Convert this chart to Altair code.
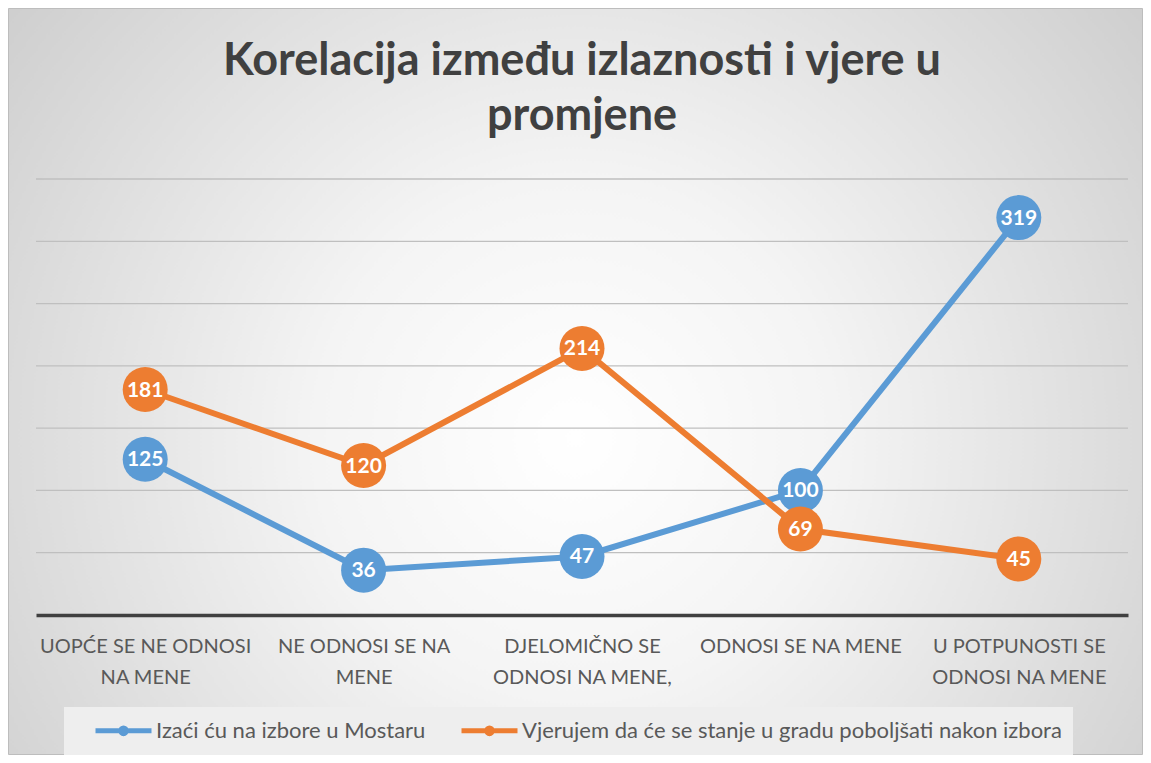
import altair as alt
import pandas as pd

categories = [
    "UOPĆE SE NE ODNOSI\nNA MENE",
    "NE ODNOSI SE NA\nMENE",
    "DJELOMIČNO SE\nODNOSI NA MENE,",
    "ODNOSI SE NA MENE",
    "U POTPUNOSTI SE\nODNOSI NA MENE",
]
series_names = [
    "Izaći ću na izbore u Mostaru",
    "Vjerujem da će se stanje u gradu poboljšati nakon izbora",
]
blue_values = [125, 36, 47, 100, 319]
orange_values = [181, 120, 214, 69, 45]
colors = ["#5B9BD5", "#ED7D31"]
grid_values = [50, 100, 150, 200, 250, 300, 350]
title_lines = ["Korelacija između izlaznosti i vjere u", "promjene"]

rows = []
for s, vals in zip(series_names, [blue_values, orange_values]):
    for c, v in zip(categories, vals):
        rows.append({"category": c, "series": s, "value": v})
df = pd.DataFrame(rows)
grid_df = pd.DataFrame({"g": grid_values})

W, H = 1092, 436
PL, PT, PR, PB = 28, 171, 15, 140

yscale = alt.Scale(domain=[0, 350], nice=False, zero=True)
xenc = alt.X(
    "category:N",
    sort=categories,
    scale=alt.Scale(type="point", padding=0.5),
    axis=alt.Axis(
        title=None,
        labelExpr="split(datum.label, '\\n')",
        labelFont="Lato",
        labelFontSize=20,
        labelColor="#595959",
        labelPadding=21,
        labelLineHeight=31,
        labelAngle=0,
        labelLimit=400,
        labelOverlap=False,
        ticks=False,
        domainColor="#404040",
        domainWidth=3.5,
        grid=False,
        zindex=1,
    ),
)
color_scale = alt.Scale(domain=series_names, range=colors)

bg = alt.Chart(pd.DataFrame({"k": [0]})).mark_rect(
    fill=alt.Gradient(
        gradient="radial",
        stops=[
            alt.GradientStop(color="#ffffff", offset=0),
            alt.GradientStop(color="#f4f4f4", offset=0.3),
            alt.GradientStop(color="#c2c2c2", offset=1),
        ],
        x1=0.5, y1=0.55, x2=0.5, y2=0.55, r1=0, r2=0.76,
    ),
    stroke="#bdbdbd",
    strokeWidth=1,
).encode(
    x=alt.value(-PL + 0.5),
    x2=alt.value(W + PR - 0.5),
    y=alt.value(-PT + 0.5),
    y2=alt.value(H + PB - 0.5),
)

grid = alt.Chart(grid_df).mark_rule(color="#bfbfbf", strokeWidth=1.3).encode(
    y=alt.Y("g:Q", scale=yscale, axis=None),
    x=alt.value(0),
    x2=alt.value(W),
)

# legend glyph: a line segment with a dot in the middle (stroke only)
symbol_path = "M0.8,0L6.4,0M3.88,0A0.28,0.28,0,1,1,3.32,0A0.28,0.28,0,1,1,3.88,0Z"

legend = alt.Legend(
    title=None,
    orient="none",
    legendX=28,
    legendY=528,
    direction="horizontal",
    symbolType=symbol_path,
    symbolSize=400,
    symbolStrokeWidth=5,
    labelFont="Lato",
    labelFontSize=22,
    labelColor="#595959",
    labelOffset=56,
    labelLimit=700,
    columnPadding=15,
    padding=11,
    fillColor="#eeeeee",
    zindex=2,
)

lines = alt.Chart(df).mark_line(strokeWidth=6, strokeCap="round").encode(
    x=xenc,
    y=alt.Y("value:Q", scale=yscale, axis=None),
    color=alt.Color("series:N", scale=color_scale, sort=series_names, legend=legend),
)

points = alt.Chart(df).mark_point(filled=True, size=2025, opacity=1, shape="circle").encode(
    x=xenc,
    y=alt.Y("value:Q", scale=yscale, axis=None),
    color=alt.Color("series:N", scale=color_scale, sort=series_names, legend=None),
)

labels = alt.Chart(df).mark_text(
    font="Lato", fontSize=21, fontWeight="bold", color="white",
    align="center", baseline="middle", dy=1,
).encode(
    x=xenc,
    y=alt.Y("value:Q", scale=yscale, axis=None),
    text="value:Q",
)

chart = alt.layer(bg, grid, lines, points, labels).properties(
    width=W,
    height=H,
    autosize=alt.AutoSizeParams(type="none"),
    padding={"left": PL, "top": PT, "right": PR, "bottom": PB},
    title=alt.TitleParams(
        text=title_lines,
        font="Lato",
        fontSize=45,
        fontWeight="bold",
        color="#404040",
        anchor="middle",
        frame="group",
        offset=-131,
        lineHeight=55,
        zindex=2,
    ),
).configure_view(stroke=None).configure(background="white")

chart.save("out.html", embed_options={"renderer": "svg", "actions": False})
